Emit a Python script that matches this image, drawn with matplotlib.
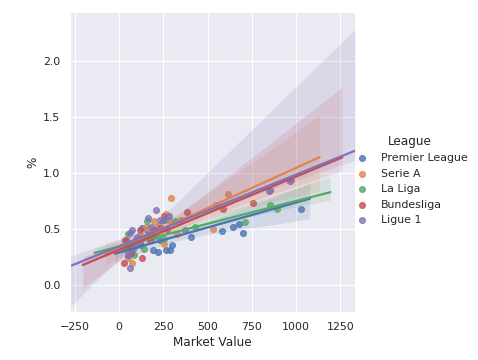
import numpy as np
import pandas as pd
import matplotlib
matplotlib.use("Agg")
import matplotlib.pyplot as plt
import seaborn as sns

sns.set_theme()

leagues = ["Premier League", "Serie A", "La Liga", "Bundesliga", "Ligue 1"]

pl_x = [1028, 698, 679, 645, 579, 409, 287, 266, 217, 189, 130, 157, 232, 850, 965, 40, 70, 100, 300, 60]
pl_y = [0.68, 0.47, 0.55, 0.52, 0.48, 0.43, 0.31, 0.31, 0.30, 0.31, 0.51, 0.49, 0.40, 0.85, 0.93, 0.40, 0.36, 0.38, 0.36, 0.33]

sa_x = [615, 549, 532, 296, 264, 349, 325, 251, 74, 53, 150, 200, 230, 180, 120, 90, 60, 30, 210, 280]
sa_y = [0.81, 0.72, 0.50, 0.78, 0.64, 0.58, 0.46, 0.37, 0.20, 0.24, 0.52, 0.57, 0.55, 0.50, 0.45, 0.40, 0.36, 0.33, 0.52, 0.58]

ll_x = [851, 893, 709, 428, 317, 262, 160, 251, 143, 53, 83, 35, 40, 60, 100, 120, 80, 180, 200, 45]
ll_y = [0.72, 0.68, 0.56, 0.52, 0.57, 0.58, 0.57, 0.41, 0.32, 0.46, 0.27, 0.33, 0.32, 0.35, 0.38, 0.36, 0.36, 0.42, 0.43, 0.34]

bl_x = [755, 585, 383, 253, 117, 27, 130, 70, 175, 34, 200, 230, 150, 100, 60, 180, 120, 270]
bl_y = [0.73, 0.68, 0.65, 0.62, 0.49, 0.20, 0.24, 0.29, 0.40, 0.40, 0.49, 0.51, 0.43, 0.39, 0.34, 0.45, 0.38, 0.50]

l1_x = [970, 845, 206, 166, 232, 374, 64, 53, 72, 62, 100, 250, 280, 150, 120, 90, 80, 180, 50, 110]
l1_y = [0.94, 0.84, 0.67, 0.60, 0.58, 0.49, 0.15, 0.27, 0.49, 0.47, 0.43, 0.58, 0.62, 0.43, 0.38, 0.35, 0.32, 0.52, 0.27, 0.40]

series = [(pl_x, pl_y), (sa_x, sa_y), (ll_x, ll_y), (bl_x, bl_y), (l1_x, l1_y)]
frames = []
for name, (xs, ys) in zip(leagues, series):
    frames.append(pd.DataFrame({"Market Value": xs, "%": ys, "League": name}))
df = pd.concat(frames, ignore_index=True)

pal = sns.color_palette("deep")
g = sns.FacetGrid(df, hue="League", hue_order=leagues, height=5, aspect=1, palette=pal[:5])
ax = g.ax

xmin, xmax = df["Market Value"].min(), df["Market Value"].max()
r = xmax - xmin
lo, hi = xmin - 0.05 * r, xmax + 0.05 * r
last = (lo, hi)
for i, name in enumerate(leagues):
    sub = df[df["League"] == name]
    ax.set_xlim(lo, hi)
    sns.regplot(data=sub, x="Market Value", y="%", ax=ax, color=pal[i], label=name,
                truncate=False, seed=i + 1)
    last = (lo, hi)
    r = hi - lo
    lo, hi = lo - 0.05 * r, hi + 0.05 * r

ax.set_xlim(*last)
ax.set_ylim(-0.24, 2.43)
g.set_axis_labels("Market Value", "%")

handles, labels = ax.get_legend_handles_labels()
g.add_legend(legend_data=dict(zip(labels, handles)), label_order=leagues, title="League")

fig = g.figure
fig.set_size_inches(478 / 72, 360 / 72)
fig.subplots_adjust(left=0.146, right=0.743, bottom=0.133, top=0.964)
fig.savefig("out.png", dpi=72)
